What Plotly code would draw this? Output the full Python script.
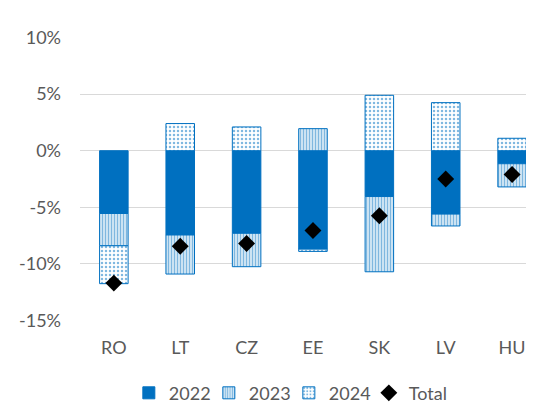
import plotly.graph_objects as go

countries = ["RO", "LT", "CZ", "EE", "SK", "LV", "HU"]
y2022 = [-5.55, -7.45, -7.3, -8.7, -4.05, -5.6, -1.15]
y2023 = [-2.85, -3.45, -2.95, 1.95, -6.65, -1.05, -2.05]
y2024 = [-3.35, 2.4, 2.1, -0.2, 4.9, 4.25, 1.1]
total = [-11.7, -8.45, -8.2, -7.05, -5.75, -2.5, -2.1]
tick_vals = [10, 5, 0, -5, -10, -15]
tick_text = ["10%", "5%", "0%", "-5%", "-10%", "-15%"]

BLUE = "#0070C0"
GREY = "#595959"
FONT = "Lato"
FS = 18

fig = go.Figure()
fig.add_trace(go.Bar(
    x=countries, y=y2022, name="2022",
    marker=dict(color=BLUE, line=dict(color=BLUE, width=1)),
))
fig.add_trace(go.Bar(
    x=countries, y=y2023, name="2023",
    marker=dict(color="white", line=dict(color=BLUE, width=1),
                pattern=dict(shape="|", fgcolor=BLUE, bgcolor="white",
                             size=3, solidity=0.6, fillmode="overlay")),
))
fig.add_trace(go.Bar(
    x=countries, y=y2024, name="2024",
    marker=dict(color="white", line=dict(color=BLUE, width=1),
                pattern=dict(shape=".", fgcolor=BLUE, bgcolor="white",
                             size=4, solidity=0.3, fillmode="overlay")),
))
fig.add_trace(go.Scatter(
    x=countries, y=total, name="Total", mode="markers",
    marker=dict(symbol="diamond", color="black", size=13),
))

fig.update_layout(
    width=526, height=395,
    barmode="relative", bargap=0.57,
    paper_bgcolor="white", plot_bgcolor="white",
    margin=dict(l=72, r=0, t=29, b=82, autoexpand=False),
    font=dict(family=FONT, size=FS, color=GREY),
    showlegend=True,
    legend=dict(orientation="h", x=0.46, xanchor="center",
                yref="container", y=0.025, yanchor="middle",
                font=dict(family=FONT, size=FS, color=GREY),
                itemwidth=30, entrywidth=35, tracegroupgap=0),
    xaxis=dict(range=[-0.51, 6.33], showgrid=False, zeroline=False,
               showline=False, ticks="", ticklabelstandoff=14,
               tickfont=dict(size=FS, color=GREY)),
    yaxis=dict(range=[-15.05, 10.05], tickvals=tick_vals, ticktext=tick_text,
               showgrid=True, gridcolor="#D9D9D9", gridwidth=1,
               zeroline=False, showline=False, ticks="",
               ticklabelstandoff=18, tickfont=dict(size=FS, color=GREY)),
)

fig.write_html("out.html")
